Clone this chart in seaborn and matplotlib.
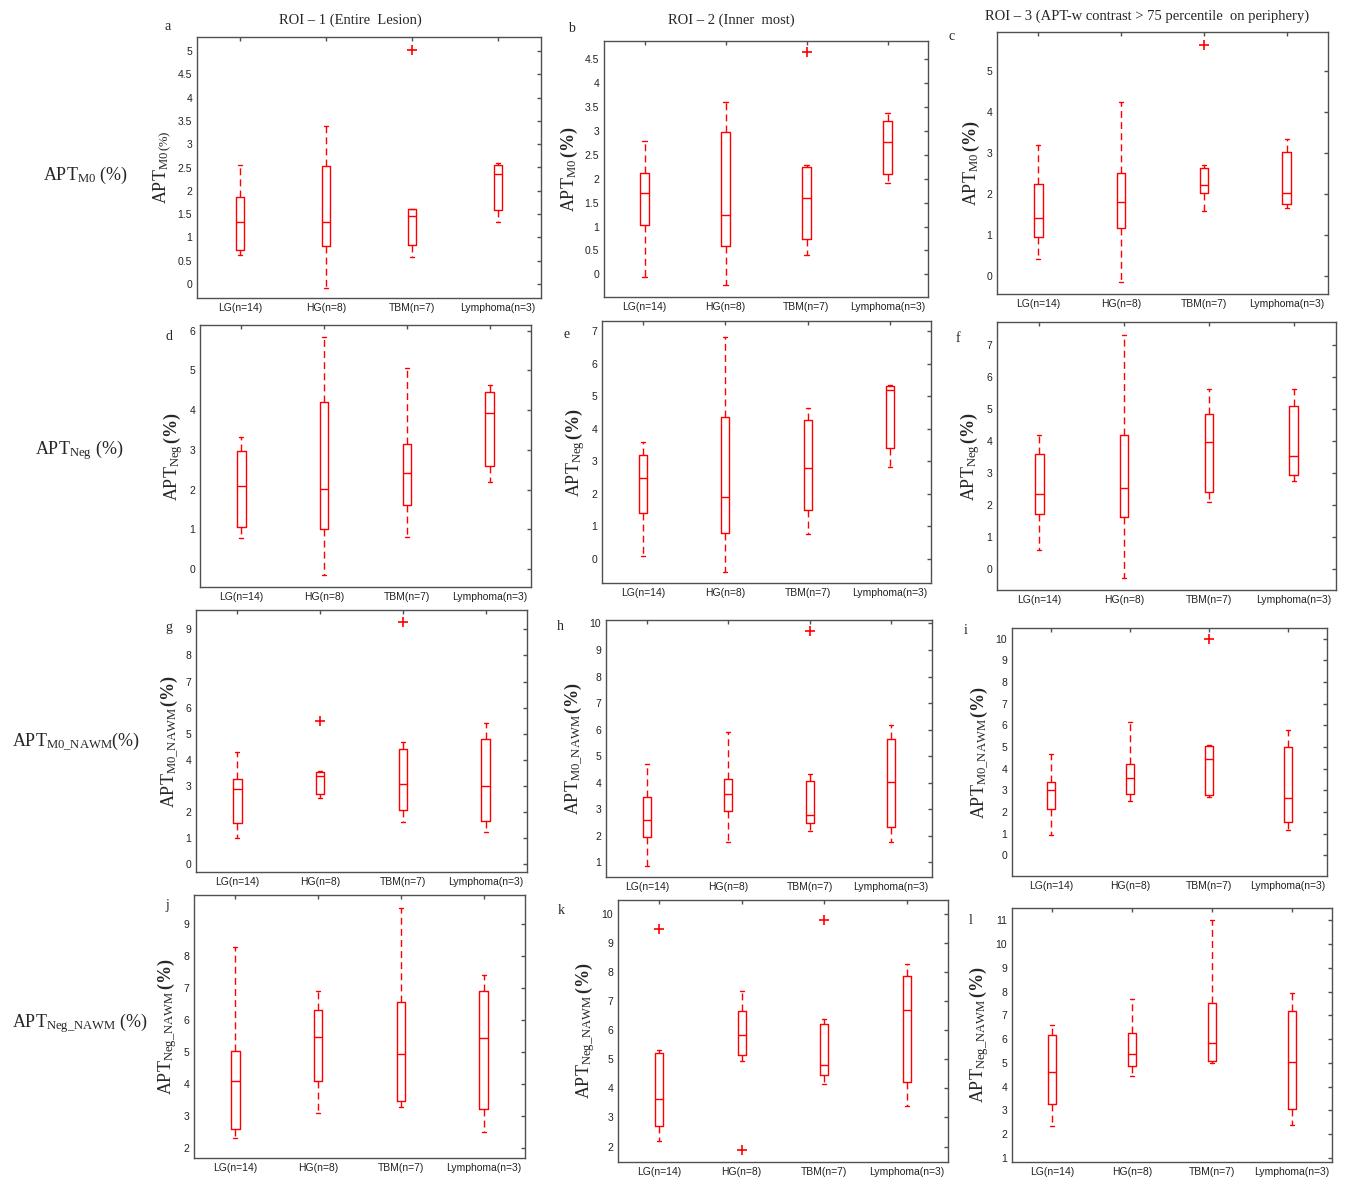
import numpy as np
import pandas as pd
import seaborn as sns
import matplotlib.pyplot as plt
from matplotlib.ticker import MultipleLocator, FormatStrFormatter

groups = ['LG(n=14)', 'HG(n=8)', 'TBM(n=7)', 'Lymphoma(n=3)']

# five-number summaries, one row per group: min, q1, median, q3, max
# row 1: APT_M0
a_box = [[0.62, 0.74, 1.32, 1.87, 2.55], [-0.08, 0.82, 1.33, 2.54, 3.40],
         [0.59, 0.84, 1.45, 1.60, 1.62], [1.33, 1.59, 2.36, 2.55, 2.60]]
a_out = [('TBM(n=7)', 5.03)]
b_box = [[-0.05, 1.03, 1.70, 2.12, 2.78], [-0.22, 0.60, 1.25, 2.97, 3.60],
         [0.40, 0.73, 1.60, 2.25, 2.28], [1.90, 2.10, 2.77, 3.20, 3.37]]
b_out = [('TBM(n=7)', 4.65)]
c_box = [[0.41, 0.96, 1.42, 2.25, 3.20], [-0.14, 1.17, 1.80, 2.50, 4.25],
         [1.59, 2.03, 2.22, 2.63, 2.70], [1.67, 1.75, 2.02, 3.03, 3.35]]
c_out = [('TBM(n=7)', 5.63)]
# row 2: APT_Neg
d_box = [[0.77, 1.05, 2.08, 2.98, 3.33], [-0.15, 1.02, 2.02, 4.20, 5.85],
         [0.80, 1.60, 2.42, 3.15, 5.05], [2.18, 2.60, 3.92, 4.45, 4.62]]
d_out = []
e_box = [[0.08, 1.42, 2.48, 3.20, 3.58], [-0.40, 0.79, 1.90, 4.35, 6.83],
         [0.75, 1.50, 2.78, 4.28, 4.65], [2.82, 3.42, 5.20, 5.32, 5.35]]
e_out = []
f_box = [[0.58, 1.73, 2.35, 3.60, 4.20], [-0.28, 1.63, 2.53, 4.18, 7.33],
         [2.10, 2.40, 3.97, 4.85, 5.63], [2.75, 2.93, 3.53, 5.10, 5.63]]
f_out = []
# row 3: APT_M0_NAWM
g_box = [[1.03, 1.60, 2.87, 3.28, 4.30], [2.55, 2.70, 3.37, 3.52, 3.58],
         [1.63, 2.10, 3.07, 4.40, 4.67], [1.25, 1.68, 3.02, 4.82, 5.42]]
g_out = [('HG(n=8)', 5.50), ('TBM(n=7)', 9.27)]
h_box = [[0.88, 1.95, 2.60, 3.47, 4.70], [1.75, 2.95, 3.58, 4.15, 5.90],
         [2.17, 2.50, 2.77, 4.07, 4.32], [1.78, 2.33, 4.02, 5.63, 6.18]]
h_out = [('TBM(n=7)', 9.70)]
i_box = [[0.95, 2.15, 3.02, 3.38, 4.67], [2.50, 2.82, 3.57, 4.20, 6.15],
         [2.70, 2.78, 4.42, 5.03, 5.08], [1.18, 1.55, 2.65, 5.00, 5.77]]
i_out = [('TBM(n=7)', 9.97)]
# row 4: APT_Neg_NAWM
j_box = [[2.32, 2.60, 4.10, 5.02, 8.28], [3.08, 4.10, 5.47, 6.32, 6.92],
         [3.27, 3.45, 4.95, 6.55, 9.50], [2.48, 3.22, 5.42, 6.92, 7.42]]
j_out = []
k_box = [[2.20, 2.70, 3.65, 5.23, 5.33], [4.95, 5.15, 5.82, 6.67, 7.35],
         [4.15, 4.45, 4.80, 6.20, 6.38], [3.38, 4.22, 6.70, 7.87, 8.28]]
k_out = [('LG(n=14)', 9.48), ('HG(n=8)', 1.87), ('TBM(n=7)', 9.80)]
l_box = [[2.32, 3.25, 4.62, 6.15, 6.60], [4.45, 4.87, 5.38, 6.27, 7.70],
         [5.00, 5.08, 5.83, 7.50, 11.03], [2.37, 3.05, 5.03, 7.20, 7.93]]
l_out = []

col_titles = ['ROI – 1 (Entire  Lesion)', 'ROI – 2 (Inner  most)',
              'ROI – 3 (APT-w contrast > 75 percentile  on periphery)']
row_names = [r'APT$_{\mathrm{M0}}$ (%)', r'APT$_{\mathrm{Neg}}$ (%)',
             r'APT$_{\mathrm{M0\_NAWM}}$(%)', r'APT$_{\mathrm{Neg\_NAWM}}$ (%)']
ylab_small = r'$\mathrm{APT}_{\mathrm{M0\,(\%)}}$'
ylabs = [r'$\mathrm{APT}_{\mathrm{M0}}\,\mathbf{(\%)}$',
         r'$\mathrm{APT}_{\mathrm{Neg}}\,\mathbf{(\%)}$',
         r'$\mathrm{APT}_{\mathrm{M0\_NAWM}}\,\mathbf{(\%)}$',
         r'$\mathrm{APT}_{\mathrm{Neg\_NAWM}}\,\mathbf{(\%)}$']

sns.set_style('white')
plt.rcParams['font.family'] = ['Liberation Sans', 'DejaVu Sans']
plt.rcParams['mathtext.fontset'] = 'custom'
plt.rcParams['mathtext.rm'] = 'Liberation Serif'
plt.rcParams['mathtext.it'] = 'Liberation Serif:italic'
plt.rcParams['mathtext.bf'] = 'Liberation Serif:bold'

W, H = 1370, 1198
fig = plt.figure(figsize=(W / 100, H / 100), dpi=100)
fig.patch.set_facecolor('white')

# letter, box stats, outliers, ylim, tick step, frame in pixels (left, top, right, bottom)
panels = [
    ('a', a_box, a_out, (-0.3, 5.3), 0.5, (197, 37, 541, 298)),
    ('b', b_box, b_out, (-0.47, 4.87), 0.5, (604, 41, 928, 297)),
    ('c', c_box, c_out, (-0.43, 5.94), 1, (997, 32, 1328, 294)),
    ('d', d_box, d_out, (-0.45, 6.14), 1, (200, 325, 531, 587)),
    ('e', e_box, e_out, (-0.75, 7.32), 1, (602, 321, 931, 583)),
    ('f', f_box, f_out, (-0.66, 7.73), 1, (997, 322, 1336, 590)),
    ('g', g_box, g_out, (-0.29, 9.74), 1, (196, 610, 527, 872)),
    ('h', h_box, h_out, (0.45, 10.13), 1, (606, 620, 932, 877)),
    ('i', i_box, i_out, (-0.96, 10.49), 1, (1012, 628, 1327, 876)),
    ('j', j_box, j_out, (1.68, 9.91), 1, (194, 895, 525, 1158)),
    ('k', k_box, k_out, (1.47, 10.47), 1, (618, 900, 948, 1162)),
    ('l', l_box, l_out, (0.82, 11.52), 1, (1012, 908, 1332, 1162)),
]
letter_pos = [(168, 27), (571, 28), (952, 36), (169, 336), (567, 335), (958, 339),
              (169, 627), (560, 626), (966, 630), (167, 905), (561, 911), (971, 921)]

for n, (letter, box, out, ylim, step, (x0, y0, x1, y1)) in enumerate(panels):
    ax = fig.add_axes([x0 / W, 1 - y1 / H, (x1 - x0) / W, (y1 - y0) / H])
    df = pd.DataFrame({'group': np.repeat(groups, 5), 'value': np.concatenate(box)})
    sns.boxplot(data=df, x='group', y='value', order=groups, whis=(0, 100),
                width=0.1, fill=False, color='red', linewidth=1.0,
                showfliers=False, ax=ax,
                whiskerprops={'linestyle': (0, (5, 3))})
    if out:
        odf = pd.DataFrame(out, columns=['group', 'value'])
        sns.stripplot(data=odf, x='group', y='value', order=groups, jitter=False,
                      marker='+', color='red', size=7, linewidth=1.2, ax=ax)
    ax.set_xlim(-0.5, 3.5)
    ax.set_ylim(*ylim)
    ax.yaxis.set_major_locator(MultipleLocator(step))
    ax.yaxis.set_major_formatter(FormatStrFormatter('%g'))
    ax.tick_params(direction='in', top=True, right=True, length=3, width=1,
                   color='#505050', labelsize=7.5, labelcolor='#222222')
    for s in ax.spines.values():
        s.set_visible(True)
        s.set_color('#505050')
        s.set_linewidth(1.0)
    ax.set_xlabel('')
    lab = ylab_small if n == 0 else ylabs[n // 3]
    ax.set_ylabel(lab, fontsize=13, labelpad=3)
    lx, ly = letter_pos[n]
    fig.text(lx / W, 1 - ly / H, letter, fontsize=10, family='Liberation Serif',
             ha='center', va='center')

for cx, cy, t in zip([350, 731, 1147], [20, 20, 16], col_titles):
    fig.text(cx / W, 1 - cy / H, t, fontsize=10.5, family='Liberation Serif',
             ha='center', va='center')

for rx, ry, t in zip([43, 35, 12, 12], [175, 450, 742, 1023], row_names):
    fig.text(rx / W, 1 - ry / H, t, fontsize=13, family='Liberation Serif',
             ha='left', va='center')

fig.savefig('out.png', dpi=100)
